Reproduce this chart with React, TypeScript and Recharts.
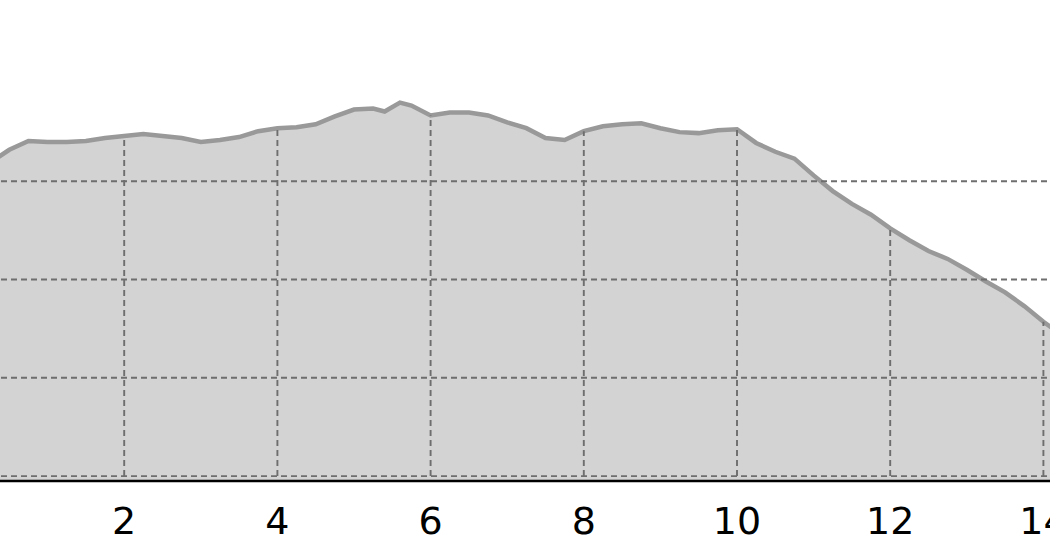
import React from 'react';
import { AreaChart, Area, XAxis, YAxis, ReferenceLine } from 'recharts';

// x positions and values (curve centre line)
const xs = [0, 0.25, 0.5, 0.75, 1, 1.25, 1.5, 1.75, 2, 2.25, 2.5, 2.75, 3, 3.25, 3.5, 3.75, 4, 4.25, 4.5, 4.75, 5, 5.25, 5.4, 5.6, 5.75, 6, 6.25, 6.5, 6.75, 7, 7.25, 7.5, 7.75, 8, 8.25, 8.5, 8.75, 9, 9.25, 9.5, 9.75, 10, 10.25, 10.5, 10.75, 11, 11.25, 11.5, 11.75, 12, 12.25, 12.5, 12.75, 13, 13.25, 13.5, 13.75, 14, 14.25];
const values = [3.13, 3.19, 3.32, 3.41, 3.4, 3.4, 3.41, 3.44, 3.46, 3.48, 3.46, 3.44, 3.4, 3.42, 3.45, 3.51, 3.54, 3.55, 3.58, 3.66, 3.73, 3.74, 3.71, 3.8, 3.77, 3.67, 3.7, 3.7, 3.67, 3.6, 3.54, 3.44, 3.42, 3.51, 3.56, 3.58, 3.59, 3.54, 3.5, 3.49, 3.52, 3.53, 3.39, 3.3, 3.23, 3.06, 2.9, 2.77, 2.66, 2.52, 2.4, 2.29, 2.21, 2.1, 1.98, 1.87, 1.73, 1.57, 1.43];
const xTicks = [2, 4, 6, 8, 10, 12, 14];
const yTicks = [0, 1, 2, 3];

const data = xs.map((x, i) => ({ x, v: values[i] }));
const valueAt = (x: number) => {
  const p = data.find(d => d.x === x);
  return p ? p.v : 0;
};

const GRID = '#6e6e6e';

const App = () => {
  return <div style={{ position: 'fixed', left: 0, top: 0, width: 1050, height: 560, overflow: 'hidden', background: '#fff' }}>
      <div style={{ position: 'absolute', left: -29, top: 0 }}>
        <AreaChart width={1149} height={560} data={data} margin={{ top: 83, right: 0, bottom: 0, left: 0 }}>
          <XAxis dataKey="x" type="number" domain={[0, 15]} ticks={xTicks} height={79} tickLine={false} tickSize={0} tickMargin={26} axisLine={{ stroke: '#000', strokeWidth: 2.5 }} tick={{ fill: '#000', fontSize: 38, fontFamily: 'DejaVu Sans' }} />
          <YAxis type="number" domain={[-0.05, 4]} ticks={yTicks} hide width={0} />
          <Area type="linear" dataKey="v" baseValue="dataMin" stroke="#999999" strokeWidth={4.5} fill="#d3d3d3" fillOpacity={1} dot={false} activeDot={false} isAnimationActive={false} />
          {yTicks.map(t => <ReferenceLine key={'h' + t} y={t} stroke={GRID} strokeWidth={1.9} strokeDasharray="6 4" />)}
          {xTicks.map(t => <ReferenceLine key={'v' + t} segment={[{ x: t, y: 0 }, { x: t, y: valueAt(t) }]} stroke={GRID} strokeWidth={1.9} strokeDasharray="6 4" />)}
        </AreaChart>
      </div>
    </div>;
};

export default App;
